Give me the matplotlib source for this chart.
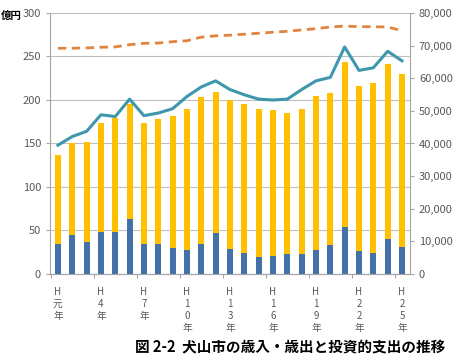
import matplotlib
matplotlib.use('Agg')
import matplotlib.pyplot as plt
from matplotlib.ticker import FuncFormatter, FixedLocator

plt.rcParams['font.family'] = ['Noto Sans CJK JP', 'DejaVu Sans']

# 年度 (H1..H25)
years = ['元', '4', '7', '10', '13', '16', '19', '22', '25']
n_years = 25

# 歳出 (億円)
expenditure = [137, 150, 152, 173, 179, 195, 174, 178, 182, 190, 203, 209, 200, 195,
               190, 188, 185, 190, 205, 208, 244, 216, 219, 241, 230]
# 投資的支出 (億円)
investment = [34, 45, 37, 48, 48, 63, 35, 34, 30, 28, 35, 47, 29, 24,
              20, 21, 23, 23, 28, 33, 54, 26, 24, 40, 31]
# 歳入 (億円)
revenue = [148, 158, 164, 183, 181, 201, 182, 185, 190, 204, 215, 222, 212, 206,
           201, 200, 201, 212, 222, 226, 261, 234, 237, 256, 245]
# 人口 (人, 右軸)
population = [69200, 69200, 69300, 69500, 69600, 70300, 70700, 70800, 71200, 71500,
              72600, 73000, 73200, 73500, 73800, 74100, 74400, 74800, 75200, 75700,
              76000, 75800, 75800, 75700, 74600]

gray = '#595959'
x = list(range(n_years))

fig = plt.figure(figsize=(4.59, 3.61), dpi=100)
ax = fig.add_axes([0.109, 0.241, 0.784, 0.723])
ax2 = ax.twinx()

ax.bar(x, expenditure, width=0.42, color='#FFC000', zorder=2)
ax.bar(x, investment, width=0.42, color='#4472A8', zorder=3)
ax.plot(x, revenue, color='#3E97AD', lw=2.2, zorder=4)
ax2.plot(x, population, color='#E0843F', lw=2, ls=(0, (3, 2)))

ax.set_xlim(-0.55, n_years - 0.45)
ax.set_ylim(0, 300)
ax2.set_ylim(0, 80000)
ax.set_yticks(range(0, 301, 50))
ax2.set_yticks(range(0, 80001, 10000))
ax2.yaxis.set_major_formatter(FuncFormatter(lambda v, p: f'{int(v):,}'))

ax.grid(axis='y', color='#BFBFBF', lw=0.8, zorder=0)
ax.set_axisbelow(True)

# x ticks: marks at category boundaries every 3, labels at every 3rd category
ax.xaxis.set_major_locator(FixedLocator([i - 0.5 for i in range(0, n_years + 1, 3)]))
ax.xaxis.set_major_formatter(FuncFormatter(lambda v, p: ''))
ax.tick_params(axis='x', length=3, color='#A6A6A6')
for i, y in enumerate(years):
    lbl = '\n'.join(['H'] + list(y) + ['年'])
    ax.text(i * 3, -0.05, lbl, transform=ax.get_xaxis_transform(), ha='center', va='top',
            fontsize=7, color=gray, linespacing=1.25)

for a in (ax, ax2):
    a.spines['top'].set_visible(False)
    for s in ('left', 'right', 'bottom'):
        a.spines[s].set_color('#A6A6A6')
    a.tick_params(axis='y', labelsize=8, labelcolor=gray, color='#A6A6A6', length=3)
ax.spines['right'].set_visible(False)
ax2.spines['left'].set_visible(False)

fig.text(0.002, 0.955, '億円', fontsize=7.5, fontweight='bold', ha='left', va='center')
fig.text(0.295, 0.04, '図 2-2  犬山市の歳入・歳出と投資的支出の推移', fontsize=10.5,
         fontweight='bold', ha='left', va='center')

fig.savefig('out.png', dpi=100)
